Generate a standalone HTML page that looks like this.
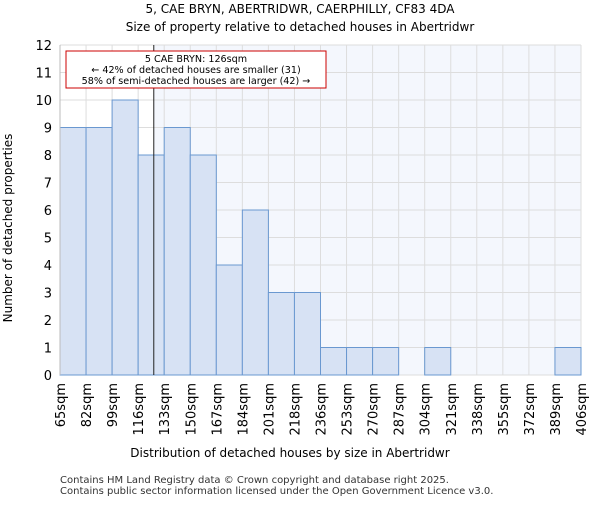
<!DOCTYPE html>
<html><head><meta charset="utf-8"><style>
body{margin:0;background:#fff}
text{font-family:"DejaVu Sans","Liberation Sans",sans-serif}
</style></head><body>
<svg id="c" width="600" height="500" xmlns="http://www.w3.org/2000/svg">
<text x="300" y="13" text-anchor="middle" font-size="12">5, CAE BRYN, ABERTRIDWR, CAERPHILLY, CF83 4DA</text>
<text x="300" y="31" text-anchor="middle" font-size="12">Size of property relative to detached houses in Abertridwr</text>
<g id="plot"></g>
<text x="290" y="457" text-anchor="middle" font-size="12">Distribution of detached houses by size in Abertridwr</text>
<text transform="translate(12,228) rotate(-90)" text-anchor="middle" font-size="12">Number of detached properties</text>
<text x="60" y="483" font-size="10" fill="#333">Contains HM Land Registry data © Crown copyright and database right 2025.</text>
<text x="60" y="494" font-size="10" fill="#333">Contains public sector information licensed under the Open Government Licence v3.0.</text>
</svg>
<script>
const binLabels=["65sqm","82sqm","99sqm","116sqm","133sqm","150sqm","167sqm","184sqm","201sqm","218sqm","236sqm","253sqm","270sqm","287sqm","304sqm","321sqm","338sqm","355sqm","372sqm","389sqm","406sqm"];
const counts=[9,9,10,8,9,8,4,6,3,3,1,1,1,0,1,0,0,0,0,1];
const yTicks=[0,1,2,3,4,5,6,7,8,9,10,11,12];
const propertyBinPos=[3.6];
const NS="http://www.w3.org/2000/svg";
const L=60,R=581,T=45,B=375,yMax=12;
const n=counts.length;
const bw=(R-L)/n;
const xs=i=>L+i*bw;
const ys=v=>B-(v/yMax)*(B-T);
const g=document.getElementById('plot');
function mk(t,a){const e=document.createElementNS(NS,t);for(const k in a)e.setAttribute(k,a[k]);g.appendChild(e);return e;}
const px=xs(propertyBinPos[0]);
let e=mk('rect',{x:L,y:T,width:R-L,height:B-T,fill:'#fff'});


e=mk('rect',{x:px,y:T,width:R-px,height:B-T,fill:'#f4f7fd'});


yTicks.forEach(v=>{
 let l=mk('line',{x1:L,x2:R,y1:ys(v),y2:ys(v),stroke:'#ddd'});
 
 
 let t=mk('text',{x:L-8,y:ys(v)+5,'text-anchor':'end','font-size':13});
 t.textContent=v;
 
 
});
binLabels.forEach((s,i)=>{
 let l=mk('line',{x1:xs(i),x2:xs(i),y1:T,y2:B,stroke:'#ddd'});
 
 
 let t=mk('text',{transform:`translate(${xs(i)+5},${B+8}) rotate(-90)`,'text-anchor':'end','font-size':13});
 t.textContent=s;
 
 
});
counts.forEach((v,i)=>{
 if(v<=0)return;
 let r=mk('rect',{x:xs(i),y:ys(v),width:bw,height:B-ys(v),fill:'#d7e2f4',stroke:'#6a98d0','stroke-width':1});
 
 
});
e=mk('line',{x1:px,x2:px,y1:T,y2:B,stroke:'#222','stroke-width':1});


e=mk('rect',{x:66,y:51,width:260,height:37,fill:'#fff',stroke:'#c00','stroke-width':1});


["5 CAE BRYN: 126sqm","← 42% of detached houses are smaller (31)","58% of semi-detached houses are larger (42) →"].forEach((s,i)=>{
 let t=mk('text',{x:196,y:62+i*11,'text-anchor':'middle','font-size':9.6});
 t.textContent=s;
 
 
});
e=mk('line',{x1:L,x2:L,y1:T,y2:B,stroke:'#bbb'});


</script>
</body></html>
